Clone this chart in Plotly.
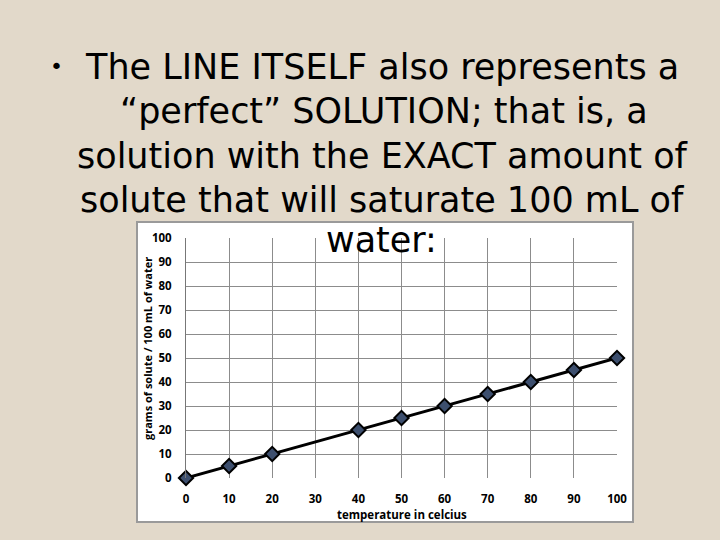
import plotly.graph_objects as go

temps = [0, 10, 20, 40, 50, 60, 70, 80, 90, 100]
grams = [0, 5, 10, 20, 25, 30, 35, 40, 45, 50]
x_ticks = [0, 10, 20, 30, 40, 50, 60, 70, 80, 90, 100]
y_ticks = [0, 10, 20, 30, 40, 50, 60, 70, 80, 90, 100]
title_lines = [
    "The LINE ITSELF also represents a",
    "\u201cperfect\u201d SOLUTION; that is, a",
    "solution with the EXACT amount of",
    "solute that will saturate 100 mL of",
    "water:",
]
x_title = "temperature in celcius"
y_title = "grams of solute / 100 mL of water"

W, H = 720, 540
L, R, T, B = 186, 617, 238, 478

def px(x):
    return (x - L) / (R - L)

def py(y):
    return (B - y) / (B - T)

fig = go.Figure()
fig.add_trace(go.Scatter(
    x=temps, y=grams, mode="lines+markers",
    line=dict(color="black", width=3),
    marker=dict(symbol="diamond", size=11, color="#3d4f6e",
                line=dict(color="black", width=2)),
    showlegend=False, cliponaxis=False,
))

tick_font = dict(family="Open Sans, Liberation Sans, sans-serif", size=11.5,
                 color="black", weight="bold")

fig.update_layout(
    width=W, height=H,
    margin=dict(l=L, r=W - R, t=T, b=H - B, pad=0),
    paper_bgcolor="#e2d9ca",
    plot_bgcolor="white",
    xaxis=dict(range=[0, 100], tickvals=x_ticks, showgrid=True,
               gridcolor="#8c8c8c", gridwidth=1, zeroline=False,
               showline=False, ticks="", tickfont=tick_font,
               ticklabelstandoff=12),
    yaxis=dict(range=[0, 100], tickvals=y_ticks, showgrid=True,
               gridcolor="#8c8c8c", gridwidth=1, zeroline=False,
               showline=True, linecolor="#777777", linewidth=1,
               ticks="", tickfont=tick_font, ticklabelstandoff=11),
    shapes=[dict(type="rect", xref="paper", yref="paper",
                 x0=px(137), x1=px(633), y0=py(522), y1=py(222),
                 fillcolor="white", line=dict(color="#9a9a9a", width=2),
                 layer="below")],
)

# axis titles
fig.add_annotation(text=x_title, xref="paper", yref="paper",
                   x=px(402), y=py(514), xanchor="center", yanchor="middle",
                   showarrow=False,
                   font=dict(family="Open Sans, Liberation Sans, sans-serif",
                             size=11.5, color="black", weight="bold"))
fig.add_annotation(text=y_title, xref="paper", yref="paper",
                   x=px(147), y=py(349), xanchor="center", yanchor="middle",
                   textangle=-90, showarrow=False,
                   font=dict(family="Open Sans, Liberation Sans, sans-serif",
                             size=11, color="black", weight="bold"))

title_font = dict(family="DejaVu Sans, sans-serif", size=35, color="black")
centers_y = [67, 111, 156, 200, 240]
centers_x = [382, 384, 382, 382, 381]
for text, cx, cy in zip(title_lines, centers_x, centers_y):
    fig.add_annotation(text=text, xref="paper", yref="paper",
                       x=px(cx), y=py(cy), xanchor="center", yanchor="middle",
                       showarrow=False, font=title_font)
fig.add_annotation(text="\u2022", xref="paper", yref="paper",
                   x=px(56), y=py(66), xanchor="center", yanchor="middle",
                   showarrow=False,
                   font=dict(family="DejaVu Sans, sans-serif", size=22, color="black"))

fig.write_html("out.html", config={"displayModeBar": False},
               post_script="document.body.style.margin='0';document.body.style.overflow='hidden';")
